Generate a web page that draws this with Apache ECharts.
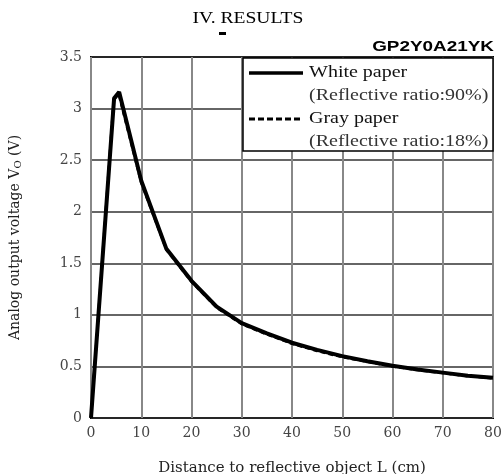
<!DOCTYPE html>
<html>
<head>
<meta charset="utf-8">
<script src="https://cdn.jsdelivr.net/npm/echarts@6/dist/echarts.min.js"></script>
<style>html,body{margin:0;padding:0;background:#fff}#c{width:504px;height:474px}</style>
</head>
<body>
<div id="c"></div>
<script>
// Distance (cm) and output voltage (V)
const whiteX = [0, 4.6, 5.6, 10, 15, 20, 25, 30, 35, 40, 45, 50, 55, 60, 65, 70, 75, 80];
const whiteY = [0, 3.1, 3.16, 2.3, 1.64, 1.33, 1.08, 0.92, 0.82, 0.73, 0.66, 0.6, 0.55, 0.507, 0.47, 0.44, 0.41, 0.39];
const grayX  = [0, 4.5, 5.5, 10, 15, 20, 25, 30, 35, 40, 45, 50, 55, 60, 65, 70, 75, 80];
const grayY  = [0, 3.08, 3.14, 2.28, 1.63, 1.32, 1.07, 0.91, 0.81, 0.72, 0.65, 0.59, 0.545, 0.5, 0.465, 0.435, 0.405, 0.385];
const xTicks = [0, 10, 20, 30, 40, 50, 60, 70, 80];
const yTicks = [0, 0.5, 1, 1.5, 2, 2.5, 3, 3.5];
const legendLabels = ['White paper', '(Reflective ratio:90%)', 'Gray paper', '(Reflective ratio:18%)'];

const serif = '"Liberation Serif", "Times New Roman", serif';
const wide = '"DejaVu Serif", serif';
const chart = echarts.init(document.getElementById('c'));
const zip = (xs, ys) => xs.map((x, i) => [x, ys[i]]);

chart.setOption({
  animation: false,
  backgroundColor: '#fff',
  grid: { left: 91, right: 11, top: 57, bottom: 56, show: true, borderColor: '#000', borderWidth: 2,
          backgroundColor: 'transparent', outerBoundsMode: 'none', containLabel: false },
  xAxis: {
    type: 'value', min: xTicks[0], max: xTicks[xTicks.length - 1], interval: 10,
    name: 'Distance to reflective object L (cm)', nameLocation: 'middle', nameGap: 43,
    nameTextStyle: { fontFamily: wide, fontSize: 15, color: '#222' },
    axisLine: { show: false }, axisTick: { show: false },
    axisLabel: { fontFamily: wide, fontSize: 14, color: '#444', margin: 8 },
    splitLine: { show: true, lineStyle: { color: '#888', width: 2 } }
  },
  yAxis: {
    type: 'value', min: yTicks[0], max: yTicks[yTicks.length - 1], interval: 0.5,
    name: '{a|Analog output voltage V}{s|O}{a| (V)}', nameLocation: 'middle', nameGap: 68, nameRotate: 90,
    nameTextStyle: { fontFamily: wide, color: '#222',
      rich: { a: { fontFamily: wide, fontSize: 14, color: '#222' }, s: { fontFamily: wide, fontSize: 10, color: '#222', padding: [6, 0, 0, 0] } } },
    axisLine: { show: false }, axisTick: { show: false },
    axisLabel: { fontFamily: wide, fontSize: 14, color: '#444', margin: 9, formatter: v => String(v) },
    splitLine: { show: true, lineStyle: { color: '#333', width: 1.5 } }
  },
  series: [
    { name: 'Gray paper', type: 'line', data: zip(grayX, grayY), showSymbol: false, z: 3,
      lineStyle: { color: '#000', width: 2.5, type: [5, 3] } },
    { name: 'White paper', type: 'line', data: zip(whiteX, whiteY), showSymbol: false, z: 4,
      lineStyle: { color: '#000', width: 4 } }
  ],
  graphic: [
    { type: 'text', x: 248, y: 19, scaleX: 1.15, z: 10,
      style: { text: 'IV. RESULTS', font: '17px ' + serif, fill: '#000', textAlign: 'center', textVerticalAlign: 'middle' } },
    { type: 'text', x: 494, y: 47, scaleX: 1.35, z: 10,
      style: { text: 'GP2Y0A21YK', font: 'bold 14px "Liberation Sans", Arial, sans-serif', fill: '#000', textAlign: 'right', textVerticalAlign: 'middle' } },
    { type: 'rect', shape: { x: 219, y: 32, width: 7, height: 3 }, style: { fill: '#000' } },
    { type: 'rect', z: 10, shape: { x: 243, y: 58, width: 250, height: 93 }, style: { fill: '#fff', stroke: '#000', lineWidth: 1.5 } },
    { type: 'line', z: 11, shape: { x1: 249, y1: 73, x2: 303, y2: 73 }, style: { stroke: '#000', lineWidth: 3.5 } },
    { type: 'line', z: 11, shape: { x1: 249, y1: 119, x2: 303, y2: 119 }, style: { stroke: '#000', lineWidth: 3, lineDash: [6, 3] } },
    { type: 'text', z: 11, x: 309, y: 73, scaleX: 1.25, style: { text: legendLabels[0], font: '16px ' + serif, fill: '#111', textVerticalAlign: 'middle' } },
    { type: 'text', z: 11, x: 309, y: 96, scaleX: 1.25, style: { text: legendLabels[1], font: '16px ' + serif, fill: '#333', textVerticalAlign: 'middle' } },
    { type: 'text', z: 11, x: 309, y: 119, scaleX: 1.25, style: { text: legendLabels[2], font: '16px ' + serif, fill: '#111', textVerticalAlign: 'middle' } },
    { type: 'text', z: 11, x: 309, y: 142, scaleX: 1.25, style: { text: legendLabels[3], font: '16px ' + serif, fill: '#333', textVerticalAlign: 'middle' } }
  ]
});
</script>
</body>
</html>
